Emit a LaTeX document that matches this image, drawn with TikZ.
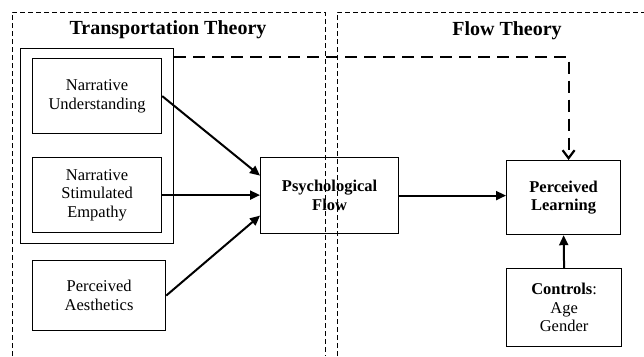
\documentclass[tikz,border=0pt]{standalone}
\usepackage{fontspec}
\setmainfont{Liberation Serif}
\usepackage{tikz}
\usetikzlibrary{calc,arrows.meta}
\tikzstyle{rect} = [rectangle, draw=black, line width=1.2pt, inner sep=0pt, text centered, align=center, anchor=north west, font=\fontsize{16.5}{18.5}\selectfont]
\tikzstyle{frame} = [draw=black, line width=0.8pt, dash pattern=on 5pt off 3pt]
\tikzstyle{link} = [-{Triangle[length=10pt,width=9pt]}, line width=2pt]
\tikzstyle{title} = [font=\fontsize{20}{24}\selectfont\bfseries]

\begin{document}
\begin{tikzpicture}[x=1pt,y=-1pt]
            \useasboundingbox (0,0) rectangle (644,356);

            \draw [frame] (12,356) -- (12,12) -- (325,12) -- (325,356);
            \draw [frame] (337,356) -- (337,12) -- (644,12);

            \node (trans) [title] at (168,30) {Transportation Theory};
            \node (flow) [title] at (507,31) {Flow Theory};

            \node (grp) [rect, minimum width=153pt, minimum height=195pt] at (20,48) {};
            \node (NU) [rect, minimum width=129pt, minimum height=75pt] at (32,58) {Narrative\\Understanding};
            \node (NSE) [rect, minimum width=129pt, minimum height=75pt] at (32,157) {Narrative\\Stimulated\\Empathy};
            \node (PA) [rect, minimum width=133pt, minimum height=70pt] at (32,260) {Perceived\\Aesthetics};
            \node (PF) [rect, minimum width=138pt, minimum height=76pt] at (260,157) {\textbf{Psychological}\\\textbf{Flow}};
            \node (PL) [rect, minimum width=114pt, minimum height=74pt] at (506,160) {\textbf{Perceived}\\\textbf{Learning}};
            \node (CT) [rect, minimum width=115pt, minimum height=78pt] at (506,268) {\textbf{Controls}:\\Age\\Gender};

            \draw [link] (NU.east) -- ($(PF.west)+(0,-20)$);
            \draw [link] (NSE.east) -- (NSE.east -| PF.west);
            \draw [link] (PA.east) -- ($(PF.west)+(0,20)$);
            \draw [link] (PF.east) -- (PF.east -| PL.west);
            \draw [link] (CT.north) -- (PL.south);

            \draw [-{Straight Barb[length=8pt,width=12pt]}, line width=2.2pt, dash pattern=on 12pt off 7pt] ($(grp.north east)+(0,9)$) -| ($(PL.north)+(5,0)$);
        \end{tikzpicture}
\end{document}
